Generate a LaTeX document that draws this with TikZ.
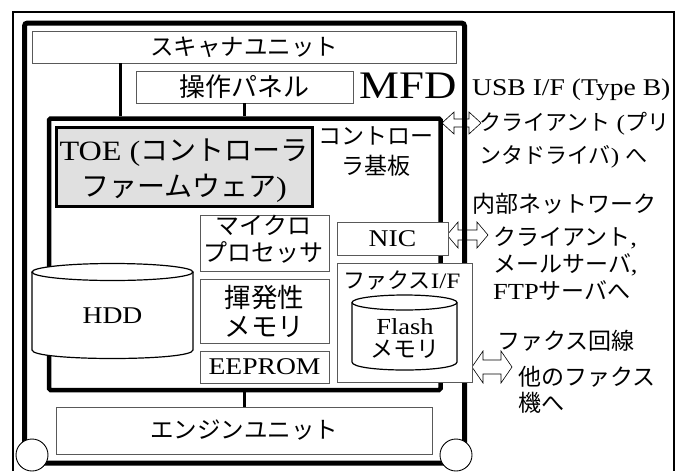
\documentclass[tikz,border=0pt]{standalone}
\usepackage{fontspec}
\setmainfont{Liberation Serif}[FakeStretch=1.15]
\newfontfamily\jp{Noto Sans CJK JP}
\newcommand{\myfs}[2]{\fontsize{#1}{#2}\selectfont}
\newcommand{\mydblarrow}[6]{% x1, x2, y, head half height, shaft half height, head length
  \draw[arrowshape] (#1,#3) -- ({#1+#6},{#3-#4}) -- ({#1+#6},{#3-#5}) -- ({#2-#6},{#3-#5})
    -- ({#2-#6},{#3-#4}) -- (#2,#3) -- ({#2-#6},{#3+#4}) -- ({#2-#6},{#3+#5})
    -- ({#1+#6},{#3+#5}) -- ({#1+#6},{#3+#4}) -- cycle;}
\begin{document}
\begin{tikzpicture}[x=1pt,y=-1pt,
  box/.style={draw=black!65, line width=0.9pt, fill=white, inner sep=0pt},
  frame/.style={draw=black, inner sep=0pt, fill=none},
  lbl/.style={inner sep=0pt, align=center},
  conn/.style={line width=3pt},
  arrowshape/.style={draw=black, line width=0.6pt, fill=white, line join=miter},
  cyl/.style={draw=black, line width=1.2pt},
  wheel/.style={draw=black, line width=0.9pt, fill=white}]
\useasboundingbox (0,0) rectangle (676,471);
% outer frame
\draw[line width=2pt] (13,471) -- (13,12) -- (674,12) -- (674,471);
% hollow double arrows
\mydblarrow{442}{481}{123}{11}{4}{12}
\mydblarrow{447}{488}{235}{13}{5}{11}
\mydblarrow{472}{512}{367}{16}{7}{11}
% frames
\node[frame, line width=5pt, rounded corners=3pt, minimum width=440pt, minimum height=440pt] (mfd) at (244.5,243) {};
\node[frame, line width=4.5pt, rounded corners=1.5pt, minimum width=391.5pt, minimum height=271.5pt] (ctrl) at (244.75,254.25) {};
% boxes
\node[box, minimum width=424pt, minimum height=32pt, font=\jp\myfs{23.5}{28}] (scanner) at (244,47) {スキャナユニット};
\node[box, minimum width=217pt, minimum height=32pt, font=\jp\myfs{26}{30}] (panel) at (244.5,87) {操作パネル};
\node[box, draw=black, line width=3pt, fill=black!12, minimum width=256pt, minimum height=79pt] (toe) at (184,166.5) {};
\node[box, minimum width=129pt, minimum height=56pt] (micro) at (264.5,243) {};
\node[box, minimum width=129pt, minimum height=64pt, align=center, font=\jp\myfs{26.5}{29}] (vmem) at (264.5,311) {揮発性\\メモリ};
\node[box, minimum width=129pt, minimum height=32pt, font=\myfs{24}{28}] (eeprom) at (264.5,367) {EEPROM};
\node[box, minimum width=111pt, minimum height=33pt, font=\myfs{24}{28}] (nic) at (392.5,238.5) {NIC};
\node[box, minimum width=135pt, minimum height=119pt] (fax) at (404.5,322.5) {};
\node[box, minimum width=376pt, minimum height=47pt, font=\jp\myfs{23.5}{28}] (engine) at (244,430.5) {エンジンユニット};
% connectors
\coordinate (xs) at (120,0);
\draw[conn] (scanner.south -| xs) -- (ctrl.north -| xs);
\draw[conn] (panel.south) -- (ctrl.north -| panel.south);
\draw[conn] (ctrl.south -| engine.north) -- (engine.north);
% HDD cylinder
\fill[white] (32,272) -- (32,350) .. controls (32,361.33) and (193,361.33) .. (193,350) -- (193,272) -- cycle;
\draw[cyl] (32,272) -- (32,350) .. controls (32,361.33) and (193,361.33) .. (193,350) -- (193,272);
\draw[cyl, fill=white] (112.5,272) ellipse [x radius=80.5pt, y radius=8.5pt];
% Flash cylinder
\fill[white] (352,302.5) -- (352,362) .. controls (352,372.67) and (457,372.67) .. (457,362) -- (457,302.5) -- cycle;
\draw[cyl] (352,302.5) -- (352,362) .. controls (352,372.67) and (457,372.67) .. (457,362) -- (457,302.5);
\draw[cyl, fill=white] (404.5,302.5) ellipse [x radius=52.5pt, y radius=7.5pt];
% wheels
\draw[wheel] (32,455) circle [radius=16pt];
\draw[wheel] (456,455) circle [radius=16pt];
% labels
\node[lbl, font=\myfs{39}{44}] (mfdlabel) at (408,86) {MFD};
\node[lbl, font=\myfs{28}{36}] (toetext) at (184,170.5) {TOE ({\jp コントローラ}\\{\jp ファームウェア})};
\node[lbl, font=\jp\myfs{23}{30}] (ctrllabel) at (376,152) {コントロー\\ラ基板};
\node[lbl, font=\jp\myfs{24}{27}] (microtext) at (263.5,239.5) {マイクロ\\プロセッサ};
\node[lbl, font=\myfs{24}{28}] (hddlabel) at (112.5,316) {HDD};
\node[lbl, font=\myfs{22}{26}] (faxlabel) at (402,280) {{\jp ファクス}I/F};
\node[lbl, font=\myfs{23}{23}] (flashlabel) at (405,338.5) {Flash\\{\jp メモリ}};
% outside texts
\node[lbl, anchor=west, font=\myfs{24}{28}] (usb) at (472,90) {USB I/F (Type B)};
\node[lbl, anchor=west, align=left, font=\myfs{22}{33}] (usbdst) at (479,140.5) {{\jp クライアント} ({\jp プリ}\\{\jp ンタドライバ}) {\jp へ}};
\node[lbl, anchor=west, font=\jp\myfs{23}{28}] (lan) at (472,204) {内部ネットワーク};
\node[lbl, anchor=west, align=left, font=\myfs{23}{27}] (landst) at (493,264) {{\jp クライアント},\\{\jp メールサーバ},\\FTP{\jp サーバへ}};
\node[lbl, anchor=west, font=\jp\myfs{23}{28}] (faxline) at (497,341) {ファクス回線};
\node[lbl, anchor=west, align=left, font=\jp\myfs{23}{26}] (faxdst) at (518,390) {他のファクス\\機へ};
\end{tikzpicture}
\end{document}
